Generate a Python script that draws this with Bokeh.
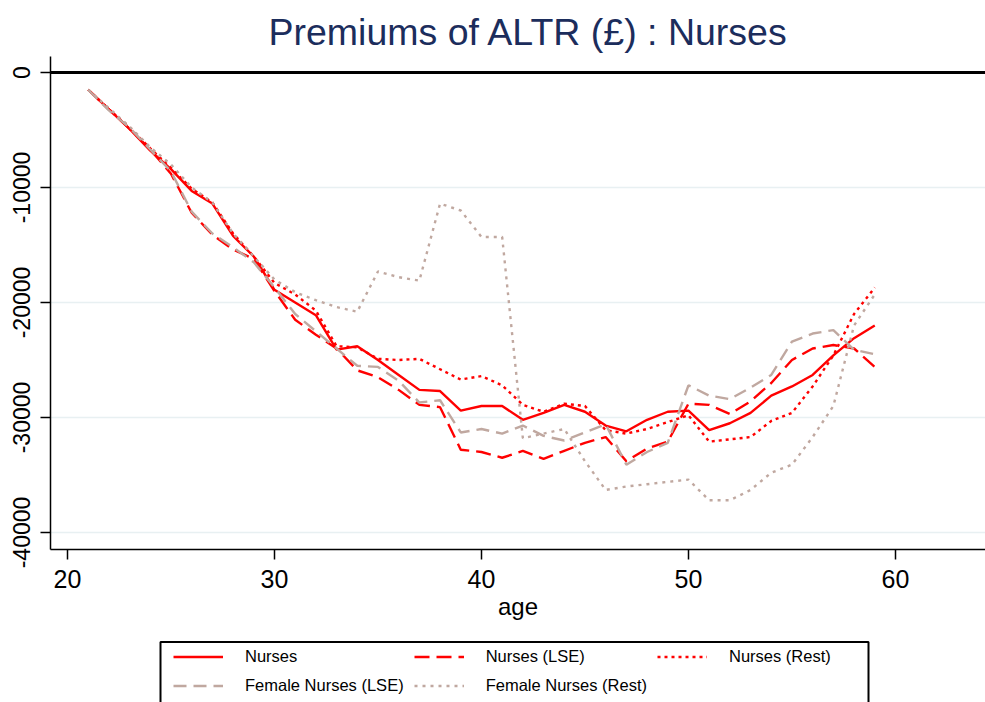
from bokeh.plotting import figure
from bokeh.layouts import column
from bokeh.models import (Range1d, Span, Legend, LegendItem, FixedTicker,
                          NumeralTickFormatter, BoxAnnotation)
from bokeh.embed import file_html
from bokeh.resources import INLINE

ages = [21, 22, 23, 24, 25, 26, 27, 28, 29, 30, 31, 32, 33, 34, 35, 36, 37, 38, 39, 40,
        41, 42, 43, 44, 45, 46, 47, 48, 49, 50, 51, 52, 53, 54, 55, 56, 57, 58, 59]

nurses = [-1500, -3200, -4900, -6800, -8400, -10300, -11400, -14200, -16000, -18900,
          -20000, -21100, -24100, -23800, -25000, -26300, -27600, -27700, -29400, -29000,
          -29000, -30200, -29600, -28900, -29500, -30700, -31200, -30200, -29500, -29400,
          -31100, -30500, -29600, -28100, -27300, -26300, -24600, -23100, -22000]

nurses_lse = [-1500, -3200, -4900, -6700, -8800, -12200, -14100, -15400, -16200, -19000,
              -21500, -22800, -24000, -25900, -26500, -27600, -28900, -29100, -32800, -33000,
              -33500, -32900, -33600, -32900, -32200, -31700, -33800, -32700, -32100, -28800,
              -28900, -29700, -28600, -27000, -25000, -24000, -23700, -24000, -25600]

nurses_rest = [-1500, -3200, -4800, -6600, -8300, -10100, -11300, -14000, -16000, -18300,
               -19300, -20700, -23800, -23900, -24900, -25000, -24900, -25800, -26700, -26400,
               -27200, -28900, -29500, -28800, -29000, -31100, -31400, -31000, -30400, -29800,
               -32100, -31900, -31700, -30300, -29600, -27300, -24600, -21000, -18700]

female_lse = [-1500, -3300, -4800, -6700, -8600, -12100, -14000, -15200, -16500, -18700,
              -21000, -22500, -24000, -25500, -25600, -26800, -28700, -28500, -31300, -31000,
              -31400, -30700, -31600, -32000, -31300, -30600, -34100, -33000, -32200, -27200,
              -28100, -28400, -27400, -26300, -23400, -22700, -22400, -24100, -24500]

female_rest = [-1500, -3100, -4700, -6500, -8000, -10000, -11300, -14000, -16000, -18000,
               -19100, -19800, -20400, -20800, -17300, -17800, -18100, -11400, -12000, -14300,
               -14300, -31800, -31400, -31000, -33800, -36300, -36000, -35800, -35600, -35400,
               -37200, -37200, -36300, -34800, -34100, -31700, -29000, -22000, -19300]

series_labels = ["Nurses", "Nurses (LSE)", "Nurses (Rest)",
                 "Female Nurses (LSE)", "Female Nurses (Rest)"]

x_ticks = [20, 30, 40, 50, 60]
y_ticks = [0, -10000, -20000, -30000, -40000]

RED = "#FF0000"
GREY = "#C0A8A0"
FONT = "Liberation Sans"
LW = 2.4

styles = [
    dict(line_color=RED, line_width=LW),
    dict(line_color=RED, line_width=LW, line_dash="15 7"),
    dict(line_color=RED, line_width=LW, line_dash="3 4"),
    dict(line_color=GREY, line_width=LW, line_dash="13 7"),
    dict(line_color=GREY, line_width=LW, line_dash="3 5"),
]
all_series = [nurses, nurses_lse, nurses_rest, female_lse, female_rest]

p = figure(width=985, height=640, output_backend="svg", toolbar_location=None,
           x_range=Range1d(19.18, 64.35), y_range=Range1d(-41478, 1391),
           min_border_left=50, min_border_right=0, min_border_top=56, min_border_bottom=91,
           background_fill_color="white", border_fill_color="white")
p.outline_line_color = None

p.title.text = "Premiums of ALTR (£) : Nurses"
p.title.text_font = FONT
p.title.text_font_size = "37.5px"
p.title.text_font_style = "normal"
p.title.text_color = "#1C2D5C"
p.title.align = "left"
p.title.offset = 218
p.title.standoff = 7

p.xaxis.ticker = FixedTicker(ticks=x_ticks)
p.yaxis.ticker = FixedTicker(ticks=y_ticks)
p.yaxis.formatter = NumeralTickFormatter(format="0")
p.yaxis.major_label_orientation = "vertical"
for ax in (p.xaxis, p.yaxis):
    ax.axis_line_color = "black"
    ax.axis_line_width = 1.5
    ax.major_tick_line_color = "black"
    ax.major_tick_line_width = 1.5
    ax.major_tick_out = 10
    ax.major_tick_in = 0
    ax.minor_tick_line_color = None
    ax.major_label_text_font = FONT
    ax.major_label_text_color = "black"
    ax.major_label_standoff = 10
p.xaxis.major_label_text_font_size = "25px"
p.yaxis.major_label_text_font_size = "23px"
p.xaxis.axis_label = "age"
p.xaxis.axis_label_text_font = FONT
p.xaxis.axis_label_text_font_size = "24px"
p.xaxis.axis_label_text_font_style = "normal"
p.xaxis.axis_label_text_color = "black"
p.xaxis.axis_label_standoff = 2

p.xgrid.grid_line_color = None
p.ygrid.grid_line_color = "#E8F0F2"
p.ygrid.grid_line_width = 1.5

p.add_layout(Span(location=0, dimension="width", line_color="black", line_width=3))

for ys, st in zip(all_series, styles):
    p.line(ages, ys, **st)

# legend panel below the chart: the same series, drawn outside its visible range
lg = figure(width=985, height=62, output_backend="svg", toolbar_location=None,
            x_range=Range1d(0, 1), y_range=Range1d(0, 1),
            x_axis_type=None, y_axis_type=None,
            min_border_left=0, min_border_right=0, min_border_top=0, min_border_bottom=0,
            background_fill_color="white", border_fill_color="white")
lg.outline_line_color = None
items = []
for lab, ys, st in zip(series_labels, all_series, styles):
    r = lg.line(ages, ys, **st)
    items.append(LegendItem(label=lab, renderers=[r]))

# legend frame (runs past the bottom edge, as in the original)
lg.add_layout(BoxAnnotation(left=110, right=818, top=60.5, bottom=-20,
                            left_units="screen", right_units="screen",
                            top_units="screen", bottom_units="screen",
                            fill_alpha=0, line_color="black", line_alpha=1.0,
                            line_width=2, level="overlay"))

legend = Legend(items=items, location=(123, 7), orientation="horizontal", ncols=3)
legend.label_text_font = FONT
legend.label_text_font_size = "16.5px"
legend.label_text_color = "black"
legend.glyph_width = 50
legend.glyph_height = 17
legend.label_height = 17
legend.label_standoff = 22
legend.spacing = 10
legend.padding = 6
legend.margin = 0
legend.border_line_color = None
legend.background_fill_alpha = 0
lg.add_layout(legend, "center")

layout = column(p, lg, spacing=0)
open("out.html", "w").write(file_html(layout, INLINE))
